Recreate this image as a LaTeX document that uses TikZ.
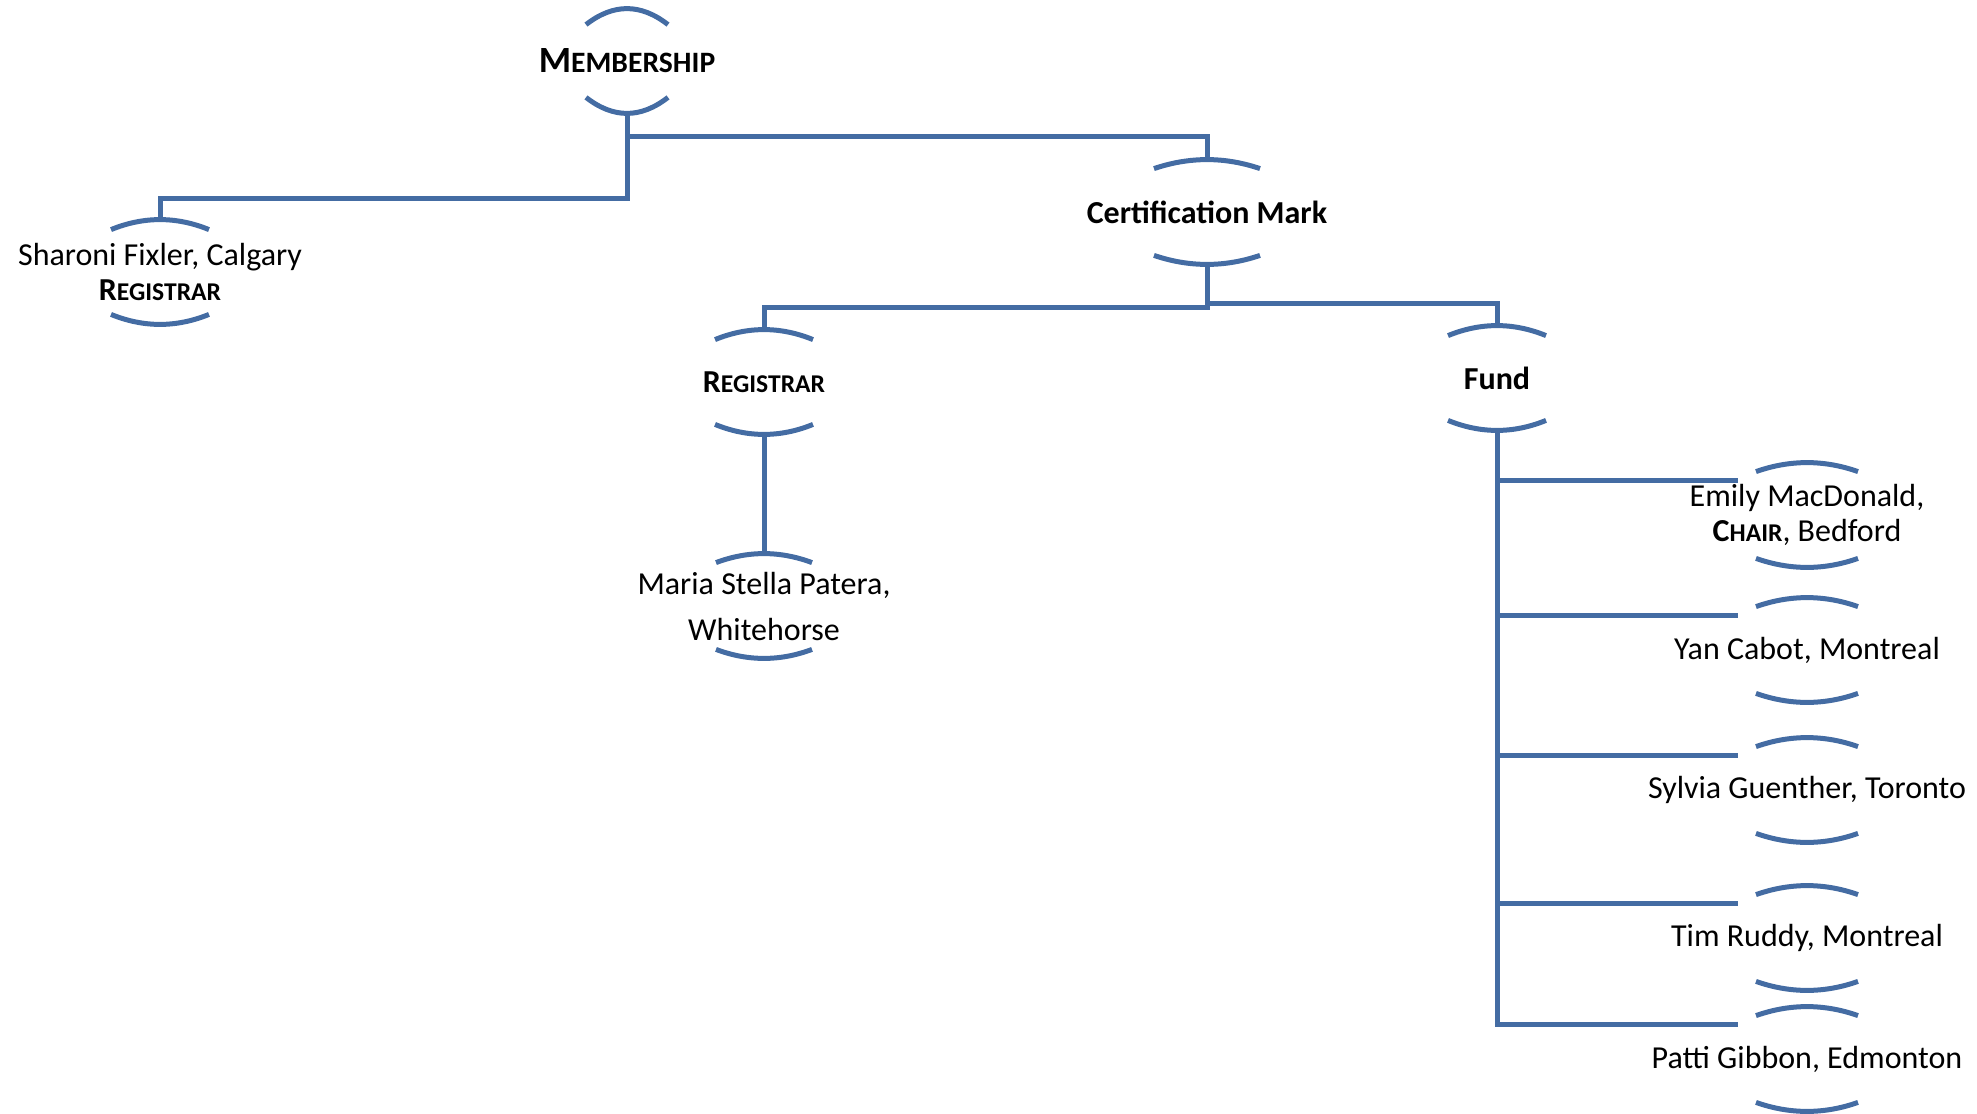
\documentclass[tikz,border=0pt]{standalone}
\usepackage{fontspec}
\setmainfont{Carlito}
\newfontfamily\capsfont[Scale=0.8]{Carlito}
\usetikzlibrary{calc}
\definecolor{orgblue}{RGB}{68,108,163}
\newcommand{\smcap}[2]{#1{\capsfont #2}}
\newcommand{\brackets}[3]{%
  \draw[orgline] ($(#1.north)+(-#2,#3)$) .. controls ($(#1.north)+(-#2/3,-#3/3)$)
    and ($(#1.north)+(#2/3,-#3/3)$) .. ($(#1.north)+(#2,#3)$);
  \draw[orgline] ($(#1.south)+(-#2,-#3)$) .. controls ($(#1.south)+(-#2/3,#3/3)$)
    and ($(#1.south)+(#2/3,#3/3)$) .. ($(#1.south)+(#2,-#3)$)}
\newcommand{\elbow}[3]{%
  \draw[orgline] (#1.south) -- ++(0,#3) -| (#2.north)}
\newcommand{\branch}[2]{%
  \draw[orgline] (#1.south) |- ($(#2.north)+(-69,18)$)}

\begin{document}
\begin{tikzpicture}[x=0.5pt, y=-0.5pt,
    orgline/.style={draw=orgblue, line width=2.5pt},
    person/.style={inner sep=0pt, minimum height=52pt, align=center,
    font=\fontsize{16}{17.5}\selectfont},
    title/.style={person, font=\fontsize{16}{17.5}\selectfont\bfseries}]
  \useasboundingbox (0,0) rectangle (1977,1114);

  \node[person, font=\fontsize{18.5}{20}\selectfont\bfseries] (member) at (627,61) {\smcap{M}{EMBERSHIP}};
  \node[person] (sharoni) at (160,272) {Sharoni Fixler, Calgary\\ \textbf{\smcap{R}{EGISTRAR}}};
  \node[title] (cert) at (1207,212) {Certification Mark};
  \node[title] (regcm) at (764,382) {\smcap{R}{EGISTRAR}};
  \node[person, font=\fontsize{16}{23}\selectfont] (maria) at (764,606) {Maria Stella Patera,\\ Whitehorse};
  \node[title] (fund) at (1497,378) {Fund};
  \node[person] (emily) at (1807,515) {Emily MacDonald,\\ \textbf{\smcap{C}{HAIR}}, Bedford};
  \node[person] (yan) at (1807,650) {Yan Cabot, Montreal};
  \node[person] (sylvia) at (1807,790) {Sylvia Guenther, Toronto};
  \node[person] (tim) at (1807,938) {Tim Ruddy, Montreal};
  \node[person] (patti) at (1807,1059) {Patti Gibbon, Edmonton};

  \brackets{member}{41}{16};
  \brackets{sharoni}{49}{10};
  \brackets{cert}{53}{9};
  \brackets{regcm}{49}{10};
  \brackets{maria}{48}{9};
  \brackets{fund}{49}{10};
  \foreach \n in {emily,yan,sylvia,tim,patti}
    \brackets{\n}{51}{9};

  \elbow{member}{sharoni}{85};
  \elbow{member}{cert}{23};
  \elbow{cert}{regcm}{43};
  \elbow{cert}{fund}{39};
  \draw[orgline] (regcm.south) -- (maria.north);
  \foreach \n in {emily,yan,sylvia,tim,patti}
    \branch{fund}{\n};
\end{tikzpicture}
\end{document}
